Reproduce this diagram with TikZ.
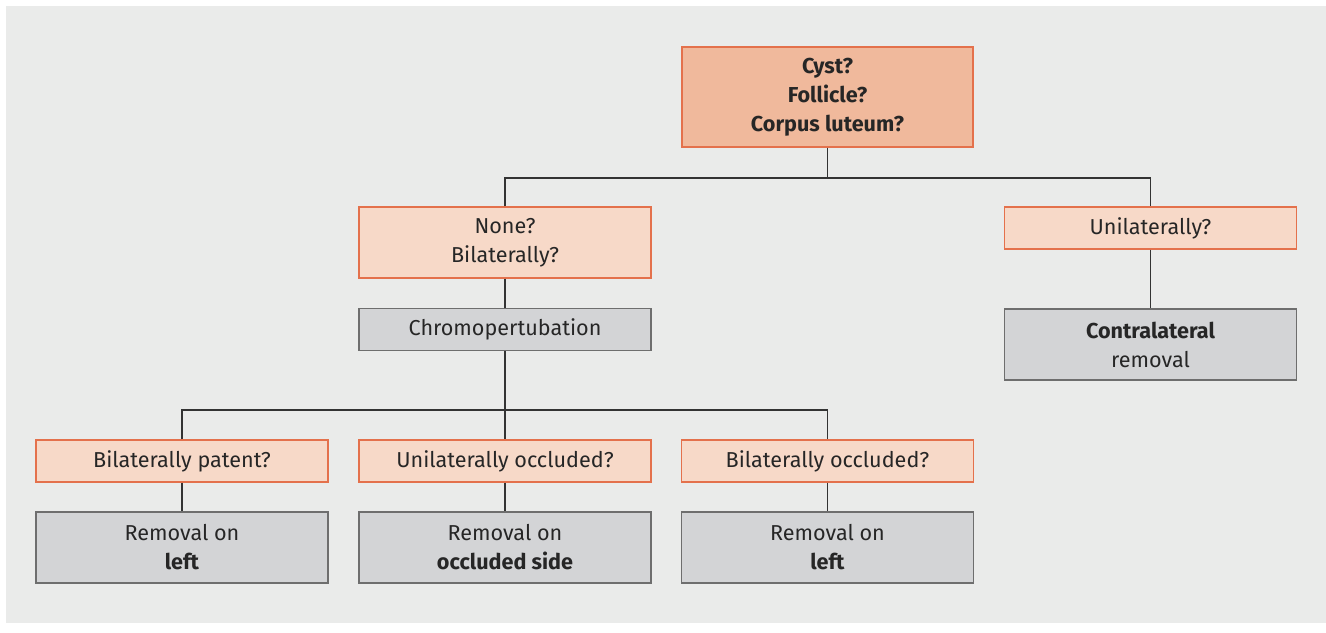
\documentclass[tikz,border=0pt]{standalone}
\usepackage{fontspec}
\setmainfont{Fira Sans}
\definecolor{panel}{HTML}{EAEBEA}
\definecolor{topfill}{HTML}{F0B99C}
\definecolor{qfill}{HTML}{F7D9C8}
\definecolor{orangeline}{HTML}{E4714C}
\definecolor{grayfill}{HTML}{D3D4D6}
\definecolor{grayline}{HTML}{6E6E6E}
\definecolor{conn}{HTML}{333333}
\begin{document}
\begin{tikzpicture}[x=0.75pt,y=-0.75pt,
  box/.style={draw, line width=1pt, align=center, inner sep=0pt, text=black!85,
    font=\fontsize{16.2}{21.75}\selectfont},
  topbox/.style={box, fill=topfill, draw=orangeline, minimum width=291*0.75pt, minimum height=100*0.75pt},
  qbox/.style={box, fill=qfill, draw=orangeline, minimum width=292*0.75pt},
  gbox/.style={box, fill=grayfill, draw=grayline, minimum width=292*0.75pt},
  one/.style={minimum height=42*0.75pt},
  two/.style={minimum height=71*0.75pt},
  link/.style={draw=conn, line width=0.9pt}
]
\useasboundingbox (0,0) rectangle (1326,632);
\fill[white] (0,0) rectangle (1326,632);
\fill[panel] (6,6) rectangle (1326,623);

\node[topbox] (top) at (827.5,97) {\textbf{Cyst?}\\\textbf{Follicle?}\\\textbf{Corpus luteum?}};
\node[qbox,two] (nb) at (505,242.5) {None?\\Bilaterally?};
\node[qbox,one] (uni) at (1150.5,228) {Unilaterally?};
\node[gbox,one] (chromo) at (505,329.5) {Chromopertubation};
\node[gbox,two] (contra) at (1150.5,344.5) {\textbf{Contralateral}\\removal};
\node[qbox,one] (q1) at (182,461) {Bilaterally patent?};
\node[qbox,one] (q2) at (505,461) {Unilaterally occluded?};
\node[qbox,one] (q3) at (827.5,461) {Bilaterally occluded?};
\node[gbox,two] (r1) at (182,547.5) {Removal on\\\textbf{left}};
\node[gbox,two] (r2) at (505,547.5) {Removal on\\\textbf{occluded side}};
\node[gbox,two] (r3) at (827.5,547.5) {Removal on\\\textbf{left}};

\coordinate (b1) at (827.5,178);
\coordinate (b2) at (505,410);
\draw[link] (top.south) -- (b1);
\draw[link] (nb.north) |- (b1) -| (uni.north);
\draw[link] (nb.south) -- (chromo.north);
\draw[link] (uni.south) -- (contra.north);
\draw[link] (chromo.south) -- (q2.north);
\draw[link] (q1.north) |- (b2) -| (q3.north);
\draw[link] (q1.south) -- (r1.north);
\draw[link] (q2.south) -- (r2.north);
\draw[link] (q3.south) -- (r3.north);
\end{tikzpicture}
\end{document}
